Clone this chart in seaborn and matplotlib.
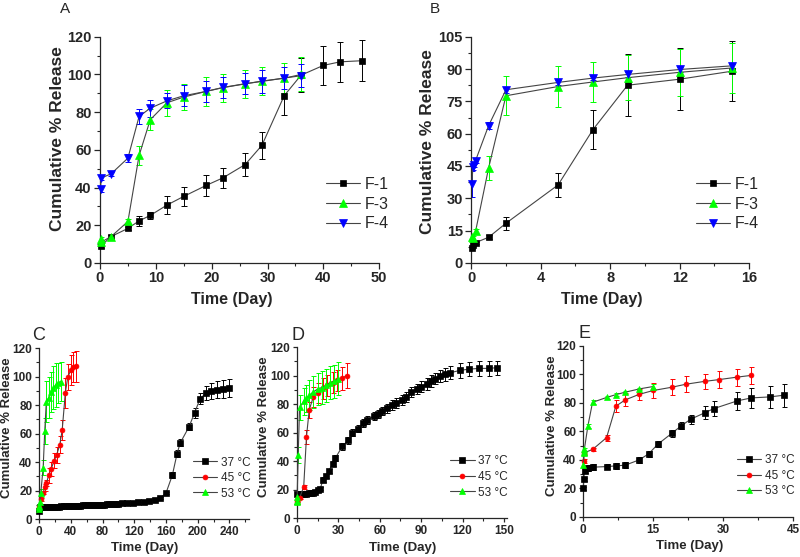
import matplotlib
matplotlib.use("Agg")
import matplotlib.pyplot as plt
import seaborn as sns
from matplotlib.ticker import MultipleLocator, AutoMinorLocator

sns.set_style("ticks")
plt.rcParams['font.family'] = ['Liberation Sans', 'DejaVu Sans']
plt.rcParams['font.weight'] = 'bold'
plt.rcParams['axes.labelweight'] = 'bold'

# ---- A: formulations, days ----
a_f1_day = [0.1, 2, 5, 7, 9, 12, 15, 19, 22, 26, 29, 33, 36, 40, 43, 47]
a_f1_rel = [8.8, 14.0, 18.3, 22.3, 25.2, 30.7, 35.3, 41.1, 45.1, 52.2, 62.4, 88.8, 99.6, 104.8, 106.7, 107.3]
a_f1_err = [1.0, 1.0, 1.0, 2.5, 2.0, 5.0, 5.0, 5.5, 5.5, 6.0, 7.0, 10.5, 9.0, 10.5, 10.5, 11.0]
a_f3_day = [0.1, 0.2, 2, 5, 7, 9, 12, 15, 19, 22, 26, 29, 33, 36]
a_f3_rel = [12.5, 11.0, 14.0, 22.0, 57.0, 76.0, 85.0, 88.0, 91.0, 93.0, 95.0, 96.5, 98.0, 100.0]
a_f3_err = [1.0, 1.0, 1.0, 1.5, 5.0, 5.5, 7.0, 7.0, 7.5, 7.5, 7.5, 7.5, 8.0, 9.0]
a_f4_day = [0.1, 0.2, 2, 5, 7, 9, 12, 15, 19, 22, 26, 29, 33, 36]
a_f4_rel = [39.1, 45.0, 47.3, 55.6, 77.7, 82.1, 86.0, 88.7, 91.0, 93.1, 95.1, 96.3, 98.1, 99.3]
a_f4_err = [1.5, 1.0, 1.0, 2.0, 4.0, 4.5, 4.0, 5.5, 5.5, 5.5, 5.5, 6.0, 6.0, 6.0]

# ---- B ----
b_f1_day = [0.04, 0.1, 0.25, 1, 2, 5, 7, 9, 12, 15]
b_f1_rel = [6.8, 8.3, 9.4, 11.9, 18.4, 36.2, 61.8, 82.5, 85.3, 89.0]
b_f1_err = [0.5, 0.5, 0.5, 1.0, 3.0, 5.5, 9.0, 14.5, 14.5, 14.0]
b_f3_day = [0.04, 0.1, 0.25, 1, 2, 5, 7, 9, 12, 15]
b_f3_rel = [12.0, 11.5, 14.6, 44.0, 77.6, 81.9, 84.0, 86.0, 88.5, 90.5]
b_f3_err = [1.0, 1.0, 1.0, 5.5, 9.0, 9.5, 9.5, 10.5, 11.0, 11.5]
b_f4_day = [0.04, 0.1, 0.17, 0.25, 1, 2, 5, 7, 9, 12, 15]
b_f4_rel = [36.7, 44.7, 45.5, 47.5, 63.7, 80.4, 83.8, 85.8, 87.5, 89.8, 91.5]
b_f4_err = [6.0, 1.5, 1.0, 1.0, 1.5, 1.5, 1.0, 1.0, 1.0, 1.0, 1.0]

# ---- C: temperatures ----
c_37_day = [0, 1, 4, 7, 10, 13, 16, 19, 22, 25, 28, 31, 34, 37, 40, 43, 46, 49, 52, 55,
            58, 61, 64, 67, 70, 73, 76, 79, 82, 85, 88, 91, 94, 97, 100,
            104, 111, 118, 125, 132, 139, 146, 153, 160, 168, 174, 178, 189, 196,
            203, 211, 217, 224, 232, 239]
c_37_rel = [5.5, 8.2, 8.3, 8.4, 8.4, 8.5, 8.6, 8.7, 8.7, 8.8, 8.9, 9.0, 9.0, 9.1, 9.2, 9.3, 9.3, 9.4, 9.5, 9.6,
            9.6, 9.7, 9.8, 9.9, 9.9, 10.0, 10.1, 10.2, 10.2, 10.3, 10.4, 10.5, 10.5, 10.6, 10.7,
            11.0, 11.2, 11.6, 11.7, 11.9, 12.4, 13.1, 14.7, 18.3, 30.8, 46.0, 53.5, 64.7, 74.5,
            84.5, 88.7, 89.7, 90.8, 91.3, 92.0]
c_37_err = [0.3, 0.3, 0.3, 0.3, 0.3, 0.3, 0.3, 0.3, 0.3, 0.3, 0.3, 0.3, 0.3, 0.3, 0.3, 0.3, 0.3, 0.3, 0.3, 0.3,
            0.3, 0.3, 0.3, 0.3, 0.3, 0.3, 0.3, 0.3, 0.3, 0.3, 0.3, 0.3, 0.3, 0.3, 0.3,
            0.5, 0.5, 0.5, 0.5, 0.5, 0.5, 0.5, 0.8, 1.0, 2.0, 2.5, 2.5, 2.5, 3.5,
            4.0, 5.0, 5.5, 6.0, 6.0, 6.0]
c_45_day = [0.1, 2, 5, 7, 9, 12, 15, 19, 22, 26, 29, 33, 36, 40, 43, 47]
c_45_rel = [8.8, 14.0, 18.3, 22.3, 25.2, 30.7, 35.3, 41.1, 45.1, 52.2, 62.4, 88.8, 99.6, 104.8, 106.7, 107.3]
c_45_err = [1.0, 1.0, 1.0, 2.5, 2.0, 5.0, 5.0, 5.5, 5.5, 6.0, 7.0, 10.5, 9.0, 10.5, 10.5, 11.0]
c_53_day = [0.04, 0.1, 0.25, 1, 2, 5, 7, 9, 12, 15, 18, 21, 24, 27]
c_53_rel = [6.8, 8.3, 9.4, 11.9, 18.4, 36.2, 61.8, 82.5, 85.3, 89.0, 92.2, 94.3, 95.7, 96.5]
c_53_err = [0.5, 0.5, 0.5, 1.0, 3.0, 5.5, 9.0, 14.5, 14.5, 14.0, 15.0, 15.5, 14.0, 13.5]

# ---- D ----
d_37_day = [0.5, 2, 3.5, 5, 7, 8.5, 10, 12, 13.5, 15, 17, 19, 21, 23, 26, 28, 33, 37, 40, 44,
            48, 51, 56, 59, 62, 65, 69, 72, 76, 79, 83, 87, 90, 94, 97, 100, 104, 107, 111, 118,
            125, 132, 139, 145]
d_37_rel = [16.9, 16.9, 17.0, 17.0, 17.1, 17.3, 17.5, 17.8, 18.5, 19.5, 20.6, 27.0, 29.3, 32.8, 38.2, 42.2,
            50.4, 54.4, 59.8, 62.8, 66.6, 68.7, 71.7, 73.1, 75.0, 76.9, 79.0, 80.9, 83.0, 85.1,
            88.4, 90.2, 92.1, 94.0, 96.1, 97.7, 99.6, 100.8, 101.9, 103.6, 104.5, 105.0, 105.0, 105.5]
d_37_err = [0.8, 0.8, 0.8, 0.8, 0.8, 0.8, 0.8, 0.8, 0.8, 1.0, 1.0, 1.5, 1.5, 1.5, 2.0, 2.0,
            2.5, 2.5, 2.5, 2.5, 3.0, 3.0, 3.0, 3.0, 3.0, 3.0, 3.5, 3.5, 3.5, 3.5,
            3.5, 3.5, 4.0, 4.0, 4.0, 4.0, 4.0, 4.5, 4.5, 5.0, 5.0, 5.0, 5.0, 5.0]
d_45_day = [0.1, 0.2, 2, 5, 7, 9, 12, 15, 19, 22, 26, 29, 33, 36]
d_45_rel = [12.5, 11.0, 14.0, 22.0, 57.0, 76.0, 85.0, 88.0, 91.0, 93.0, 95.0, 96.5, 98.0, 100.0]
d_45_err = [1.0, 1.0, 1.0, 1.5, 5.0, 5.5, 7.0, 7.0, 7.5, 7.5, 7.5, 7.5, 8.0, 9.0]
d_53_day = [0.04, 0.1, 0.25, 1, 2, 5, 7, 9, 12, 15, 18, 21, 24, 27, 30]
d_53_rel = [12.0, 11.5, 14.6, 44.0, 77.6, 81.9, 84.0, 86.0, 88.5, 90.5, 91.5, 93.0, 95.0, 96.0, 97.7]
d_53_err = [1.0, 1.0, 1.0, 5.5, 9.0, 9.5, 9.5, 10.5, 11.0, 11.5, 11.5, 11.5, 11.5, 11.5, 11.5]

# ---- E ----
e_37_day = [0.04, 0.1, 0.3, 1, 2, 5, 7, 9, 12, 14, 16, 19, 21, 23, 26, 28, 33, 36, 40, 43]
e_37_rel = [20.0, 26.4, 32.3, 34.2, 34.9, 35.3, 35.8, 36.3, 40.0, 44.2, 51.0, 58.7, 63.9, 68.5,
            73.0, 76.0, 81.4, 83.5, 84.2, 85.4]
e_37_err = [1.0, 1.0, 1.5, 2.0, 2.0, 2.0, 2.0, 2.0, 2.0, 2.0, 2.0, 2.5, 2.5, 3.0,
            4.5, 5.5, 6.5, 7.0, 8.0, 8.0]
e_45_day = [0.1, 0.2, 2, 5, 7, 9, 12, 15, 19, 22, 26, 29, 33, 36]
e_45_rel = [39.1, 45.0, 47.3, 55.6, 77.7, 82.1, 86.0, 88.7, 91.0, 93.1, 95.1, 96.3, 98.1, 99.3]
e_45_err = [1.5, 1.0, 1.0, 2.0, 4.0, 4.5, 4.0, 5.5, 5.5, 5.5, 5.5, 6.0, 6.0, 6.0]
e_53_day = [0.04, 0.1, 0.17, 0.25, 1, 2, 5, 7, 9, 12, 15]
e_53_rel = [36.7, 44.7, 45.5, 47.5, 63.7, 80.4, 83.8, 85.8, 87.5, 89.8, 91.5]
e_53_err = [1.5, 1.5, 1.0, 1.0, 1.5, 1.5, 1.0, 1.0, 1.0, 1.0, 1.5]

LINE = '#444444'
BLACK, GREEN, BLUE, RED = '#000000', '#00ff00', '#0000ff', '#ff0000'


def draw(ax, x, y, err, color, marker, label, ms, cap):
    ax.errorbar(x, y, yerr=err, fmt='none', ecolor=color, elinewidth=0.7,
                capsize=cap, capthick=0.7, zorder=2)
    sns.lineplot(x=x, y=y, ax=ax, color=LINE, linewidth=0.8, marker=marker,
                 markersize=ms, markerfacecolor=color, markeredgecolor=color,
                 markeredgewidth=0.5, label=label, estimator=None, sort=False,
                 zorder=3, clip_on=False)


def style(ax, xlim, ylim, xstep, ystep, tsize, xlsize, ylsize, big):
    ax.set_xlim(*xlim)
    ax.set_ylim(*ylim)
    ax.xaxis.set_major_locator(MultipleLocator(xstep))
    ax.yaxis.set_major_locator(MultipleLocator(ystep))
    ax.xaxis.set_minor_locator(AutoMinorLocator(2))
    ax.yaxis.set_minor_locator(AutoMinorLocator(2))
    sns.despine(ax=ax)
    for s in ['left', 'bottom']:
        ax.spines[s].set_linewidth(0.9)
    ax.tick_params(which='major', direction='out', length=4 if big else 3,
                   width=0.9, labelsize=tsize, pad=2)
    ax.tick_params(which='minor', direction='out', length=2.5 if big else 2, width=0.8)
    ax.set_xlabel('Time (Day)', fontsize=xlsize)
    ax.set_ylabel('Cumulative % Release', fontsize=ylsize)


fig = plt.figure(figsize=(8, 5.57), dpi=100)
axA = fig.add_axes([0.125, 0.528, 0.349, 0.406])
axB = fig.add_axes([0.589, 0.528, 0.3475, 0.406])
axC = fig.add_axes([0.049, 0.068, 0.2625, 0.307])
axD = fig.add_axes([0.371, 0.070, 0.2625, 0.307])
axE = fig.add_axes([0.729, 0.072, 0.2625, 0.307])

# top row
draw(axA, a_f1_day, a_f1_rel, a_f1_err, BLACK, 's', 'F-1', 5, 2.5)
draw(axA, a_f3_day, a_f3_rel, a_f3_err, GREEN, '^', 'F-3', 5.5, 2.5)
draw(axA, a_f4_day, a_f4_rel, a_f4_err, BLUE, 'v', 'F-4', 5.5, 2.5)
style(axA, (0, 50), (0, 120), 10, 20, 10.5, 11.5, 12.5, True)

draw(axB, b_f1_day, b_f1_rel, b_f1_err, BLACK, 's', 'F-1', 5, 2.5)
draw(axB, b_f3_day, b_f3_rel, b_f3_err, GREEN, '^', 'F-3', 5.5, 2.5)
draw(axB, b_f4_day, b_f4_rel, b_f4_err, BLUE, 'v', 'F-4', 5.5, 2.5)
style(axB, (0, 16), (0, 105), 4, 15, 10.5, 11.5, 12.5, True)

# bottom row
draw(axC, c_37_day, c_37_rel, c_37_err, BLACK, 's', '37 \u00b0C', 3.8, 1.8)
draw(axC, c_45_day, c_45_rel, c_45_err, RED, 'o', '45 \u00b0C', 3.5, 1.8)
draw(axC, c_53_day, c_53_rel, c_53_err, GREEN, '^', '53 \u00b0C', 3.8, 1.8)
style(axC, (0, 265), (0, 120), 40, 20, 8.5, 9.5, 9.5, False)

draw(axD, d_37_day, d_37_rel, d_37_err, BLACK, 's', '37 \u00b0C', 3.8, 1.8)
draw(axD, d_45_day, d_45_rel, d_45_err, RED, 'o', '45 \u00b0C', 3.5, 1.8)
draw(axD, d_53_day, d_53_rel, d_53_err, GREEN, '^', '53 \u00b0C', 3.8, 1.8)
style(axD, (0, 152), (0, 120), 30, 20, 8.5, 9.5, 9.5, False)

draw(axE, e_37_day, e_37_rel, e_37_err, BLACK, 's', '37 \u00b0C', 3.8, 1.8)
draw(axE, e_45_day, e_45_rel, e_45_err, RED, 'o', '45 \u00b0C', 3.5, 1.8)
draw(axE, e_53_day, e_53_rel, e_53_err, GREEN, '^', '53 \u00b0C', 3.8, 1.8)
style(axE, (0, 45), (0, 120), 15, 20, 8.5, 9.5, 9.5, False)

# label positions
axA.yaxis.set_label_coords(-0.125, 0.55)
axA.xaxis.set_label_coords(0.473, -0.13)
axB.yaxis.set_label_coords(-0.13, 0.535)
axB.xaxis.set_label_coords(0.47, -0.13)
axC.yaxis.set_label_coords(-0.124, 0.535)
axC.xaxis.set_label_coords(0.5, -0.135)
axD.yaxis.set_label_coords(-0.129, 0.535)
axD.xaxis.set_label_coords(0.502, -0.14)
axE.yaxis.set_label_coords(-0.119, 0.535)
axE.xaxis.set_label_coords(0.507, -0.135)

for ax in [axA, axB]:
    ax.legend(loc='center left', bbox_to_anchor=(0.81, 0.26), frameon=False,
              handlelength=2.1, handletextpad=0.3, labelspacing=0.3,
              borderpad=0, borderaxespad=0, prop={'weight': 'normal', 'size': 11.5})
for ax in [axC, axD, axE]:
    ax.legend(loc='center left', bbox_to_anchor=(0.73, 0.24), frameon=False,
              handlelength=2.1, handletextpad=0.3, labelspacing=0.3,
              borderpad=0, borderaxespad=0, prop={'weight': 'normal', 'size': 8.5})

for lbl, x, y, s in [('A', 65, 9, 11), ('B', 435, 9, 11),
                     ('C', 39, 335, 13), ('D', 298, 335, 13), ('E', 584, 333, 13)]:
    fig.text(x / 800, 1 - y / 557, lbl, fontsize=s, fontweight='normal',
             ha='center', va='center')

fig.savefig('out.png', dpi=100)
